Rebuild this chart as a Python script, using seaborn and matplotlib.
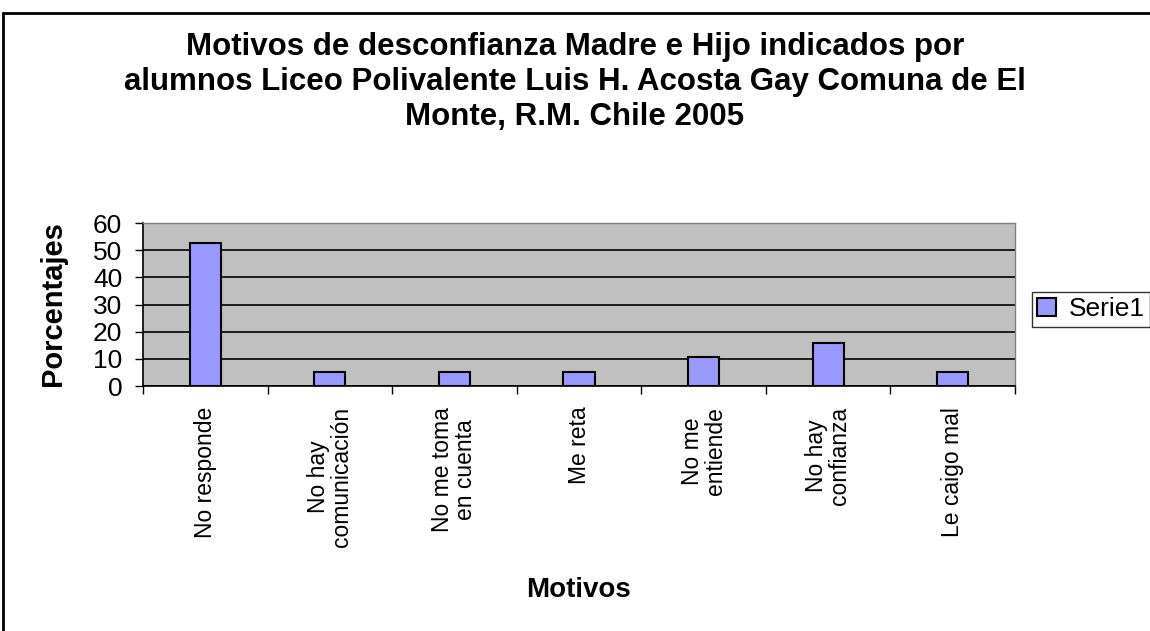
import matplotlib
matplotlib.use("Agg")
import matplotlib.pyplot as plt
import seaborn as sns
from matplotlib.patches import Rectangle

categories = ["No responde", "No hay\ncomunicación", "No me toma\nen cuenta", "Me reta",
              "No me\nentiende", "No hay\nconfianza", "Le caigo mal"]
values = [52.6, 5.3, 5.3, 5.3, 10.5, 15.8, 5.3]
yticks = [0, 10, 20, 30, 40, 50, 60]
series_name = "Serie1"
title = "Motivos de desconfianza Madre e Hijo indicados por\nalumnos Liceo Polivalente Luis H. Acosta Gay Comuna de El\nMonte, R.M. Chile 2005"

sns.set_style("white")
plt.rcParams['font.family'] = ['Liberation Sans', 'DejaVu Sans']
plt.rcParams['text.color'] = 'black'
plt.rcParams['axes.labelcolor'] = 'black'
plt.rcParams['xtick.color'] = 'black'
plt.rcParams['ytick.color'] = 'black'

fig = plt.figure(figsize=(11.5, 6.31), dpi=100)
ax = fig.add_axes([143/1150, 1-386/631, (1015-143)/1150, (386-223)/631])
ax.set_facecolor("#C0C0C0")

sns.barplot(x=categories, y=values, color="#9999FF", width=0.25, edgecolor="black",
            linewidth=1.5, label=series_name, ax=ax, saturation=1, zorder=3)

ax.set_ylim(0, 60)
ax.set_xlim(-0.5, len(categories) - 0.5)
ax.set_yticks(yticks)
ax.set_yticklabels([str(t) for t in yticks], fontsize=19)
ax.yaxis.grid(True, color="black", linewidth=1.2, zorder=0)
ax.set_axisbelow(True)
ax.tick_params(axis='y', length=6, width=1, color='black', pad=9, left=True)
ax.tick_params(axis='x', which='major', length=0, pad=15, labelsize=16.5)
ax.set_xticks([i - 0.5 for i in range(len(categories) + 1)], minor=True)
ax.tick_params(axis='x', which='minor', length=6, width=1, color='black', bottom=True)
for lbl in ax.get_xticklabels():
    lbl.set_rotation(90)
    lbl.set_ha('center')
    lbl.set_va('top')
    lbl.set_multialignment('center')
    lbl.set_linespacing(1.0)

for s in ['top', 'right']:
    ax.spines[s].set_color('#808080')
    ax.spines[s].set_linewidth(1)
for s in ['left', 'bottom']:
    ax.spines[s].set_color('black')
    ax.spines[s].set_linewidth(1.2)

ax.set_xlabel("Motivos", fontsize=20, fontweight='bold')
ax.set_ylabel("Porcentajes", fontsize=21, fontweight='bold')
ax.xaxis.set_label_coords((578-143)/872, -(590-386)/163)
ax.yaxis.set_label_coords(-(143-53)/872, (386-304)/163)
ax.xaxis.label.set_va('center')
ax.yaxis.label.set_va('center')

fig.text(0.5, 1-82/631, title, ha='center', va='center', fontsize=22.5, fontweight='bold',
         linespacing=1.2)

leg = ax.legend(loc='upper left', bbox_to_anchor=((1032-143)/872, (386-292)/163),
                frameon=True, fancybox=False, fontsize=19, handlelength=0.7, handleheight=0.7,
                handletextpad=0.5, borderpad=0.2, borderaxespad=0)
leg.get_frame().set_edgecolor('black')
leg.get_frame().set_linewidth(1)

fig.patches.append(Rectangle((3/1150, -0.1), 1.2, 1.1 - 13/631, transform=fig.transFigure,
                             fill=False, edgecolor='black', linewidth=2))

fig.savefig("out.png", dpi=100)
